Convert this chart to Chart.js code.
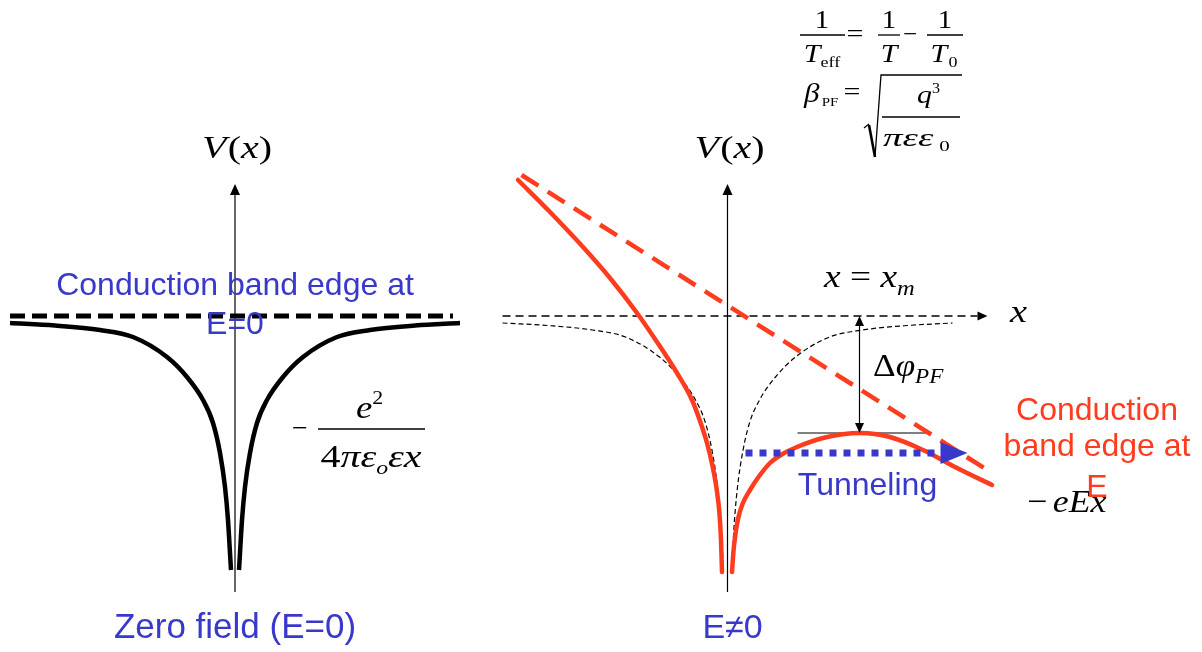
<!DOCTYPE html>
<html>
<head>
<meta charset="utf-8">
<title>Poole-Frenkel barrier lowering</title>
<script src="https://cdn.jsdelivr.net/npm/chart.js@4.4.1/dist/chart.umd.min.js"></script>
<style>
  html, body { margin: 0; padding: 0; background: #fff; overflow: hidden; }
  #wrap { position: relative; width: 1202px; height: 652px; }
</style>
</head>
<body>
<div id="wrap"><canvas id="pf" width="1202" height="652"></canvas></div>
<script>
// ---- values (x: distance from the trap, V: energy relative to the E=0 band edge, up = higher) ----

// Coulomb well of the trap at zero field, one branch (distance from trap, V)
const wellDist = [4, 5, 7, 10, 15, 22, 32, 48, 68, 102, 135, 180, 225];
const wellV    = [-254, -237, -204, -171, -137, -107, -84, -61, -41, -21, -14, -9.5, -7];

// Band edge at E=0 (flat), x extent
const edgeLeftX  = [-225, 218];
const edgeRightX = [-225, 250];
const edgeV      = [0, 0];

// Potential under an applied field E: Coulomb well plus -eEx
const fieldLeftX  = [-209.5, -177.5, -144.5, -117.5, -90.5, -70.5, -50.5, -35.5, -27.5, -20.5, -15, -11, -8, -6.5, -5.5];
const fieldLeftV  = [136, 104, 69, 38, 3, -26, -57, -84, -105, -127, -150, -172, -198, -224, -256];
const fieldRightX = [4.5, 6, 8, 10.5, 15, 22.5, 31, 42.5, 55, 69.5, 95.5, 132.5, 162.5, 195.5, 229.5, 264.5];
const fieldRightV = [-256, -235, -218, -203, -188, -174, -161, -147, -138, -131, -122, -117, -121, -134, -152, -169];

// Tilted conduction band edge, -eEx
const tiltX = [-206, 264.5];
const tiltV = [141, -157];

// Barrier maximum at x = x_m and the lowering Δφ_PF
const xm = 132;
const barrierV = -117;
const barrierTickX = [70, 200];

// Tunneling path below the barrier top
const tunnelX = [18, 213];
const tunnelV = -137;

// V(x) axis extent
const axisV = [-276, 121];

// ---- layout ----
const LEFT_O = 235, RIGHT_O = 727.5;
const BLUE = '#3838ca', RED = '#ff3c1e', BLACK = '#000';
const SERIF = '"Liberation Serif", "Times New Roman", serif';
const SANS = '"Liberation Sans", Arial, sans-serif';

const pts = (xs, vs, o) => xs.map((x, i) => ({ x: o + x, y: Array.isArray(vs) ? vs[i] : vs }));
const wellLeft  = o => wellDist.map((d, i) => ({ x: o - d, y: wellV[i] })).reverse();
const wellRight = o => wellDist.map((d, i) => ({ x: o + d, y: wellV[i] }));

const line = (data, color, width, extra) => Object.assign({
  data, borderColor: color, borderWidth: width, showLine: true, fill: false,
  pointRadius: 0, pointHoverRadius: 0, cubicInterpolationMode: 'monotone',
  borderCapStyle: 'butt', borderJoinStyle: 'round'
}, extra || {});

const datasets = [
  // tunneling arrow (on top)
  line(pts(tunnelX, tunnelV, RIGHT_O), BLUE, 7, { borderDash: [7, 7], order: 0,
    arrowEnd: { len: 27, half: 11, color: BLUE } }),
  // field-tilted potential
  line(pts(fieldLeftX, fieldLeftV, RIGHT_O), RED, 4.5, { order: 1, borderCapStyle: 'round' }),
  line(pts(fieldRightX, fieldRightV, RIGHT_O), RED, 4.5, { order: 1, borderCapStyle: 'round' }),
  line(pts(tiltX, tiltV, RIGHT_O), RED, 4.5, { order: 2, borderDash: [20, 11], tension: 0 }),
  // zero-field panel
  line(pts(edgeLeftX, edgeV, LEFT_O), BLACK, 5, { order: 3, borderDash: [15, 7], tension: 0 }),
  line(wellLeft(LEFT_O), BLACK, 4.5, { order: 3 }),
  line(wellRight(LEFT_O), BLACK, 4.5, { order: 3 }),
  line(pts([0, 0], axisV, LEFT_O), BLACK, 1.2, { order: 4, tension: 0,
    arrowEnd: { len: 11, half: 5 } }),
  // field panel, reference lines
  line(pts(edgeRightX, edgeV, RIGHT_O), BLACK, 1.5, { order: 4, borderDash: [8, 5], tension: 0,
    arrowEnd: { len: 10, half: 4.5 } }),
  line(wellLeft(RIGHT_O), BLACK, 1.2, { order: 5, borderDash: [5, 3] }),
  line(wellRight(RIGHT_O), BLACK, 1.2, { order: 5, borderDash: [5, 3] }),
  line(pts([0, 0], axisV, RIGHT_O), BLACK, 1.2, { order: 4, tension: 0,
    arrowEnd: { len: 11, half: 5 } }),
  line(pts([xm, xm], [-10, barrierV + 10], RIGHT_O), BLACK, 1.2, { order: 4, tension: 0,
    arrowStart: { len: 10, half: 4.5 }, arrowEnd: { len: 10, half: 4.5 } }),
  line(pts(barrierTickX, barrierV, RIGHT_O), BLACK, 1.2, { order: 4, tension: 0 })
];

// Arrowheads at the ends of datasets that ask for them
const arrowPlugin = {
  id: 'arrowHeads',
  afterDatasetsDraw(chart) {
    const ctx = chart.ctx;
    chart.data.datasets.forEach((ds, i) => {
      const el = chart.getDatasetMeta(i).data;
      if (el.length < 2) return;
      const head = (p, q, spec) => {
        const dx = p.x - q.x, dy = p.y - q.y, n = Math.hypot(dx, dy) || 1;
        const ux = dx / n, uy = dy / n;
        const tx = p.x + ux * spec.len, ty = p.y + uy * spec.len;
        ctx.save();
        ctx.fillStyle = spec.color || ds.borderColor;
        ctx.beginPath();
        ctx.moveTo(tx, ty);
        ctx.lineTo(p.x - uy * spec.half, p.y + ux * spec.half);
        ctx.lineTo(p.x + uy * spec.half, p.y - ux * spec.half);
        ctx.closePath();
        ctx.fill();
        ctx.restore();
      };
      if (ds.arrowEnd) head(el[el.length - 1], el[el.length - 2], ds.arrowEnd);
      if (ds.arrowStart) head(el[0], el[1], ds.arrowStart);
    });
  }
};

// Text runs: parts are [text, font, dy, extra advance]; sx widens the run horizontally
function run(ctx, x, y, parts, align, color, sx) {
  sx = sx || 1;
  const w = parts.map(p => { ctx.font = p[1]; return ctx.measureText(p[0]).width + (p[3] || 0); });
  const total = w.reduce((a, b) => a + b, 0) * sx;
  const x0 = align === 'center' ? x - total / 2 : x;
  ctx.save();
  ctx.translate(x0, y);
  ctx.scale(sx, 1);
  ctx.fillStyle = color || BLACK;
  ctx.textAlign = 'left';
  ctx.textBaseline = 'alphabetic';
  let cx = 0;
  parts.forEach((p, i) => { ctx.font = p[1]; ctx.fillText(p[0], cx, p[2] || 0); cx += w[i]; });
  ctx.restore();
}
function bar(ctx, x1, x2, y, w) {
  ctx.save(); ctx.strokeStyle = BLACK; ctx.lineWidth = w || 1.3;
  ctx.beginPath(); ctx.moveTo(x1, y); ctx.lineTo(x2, y); ctx.stroke(); ctx.restore();
}

const labelPlugin = {
  id: 'labels',
  afterDraw(chart) {
    const ctx = chart.ctx, sx = chart.scales.x, sy = chart.scales.y;
    const X = v => sx.getPixelForValue(v), Y = v => sy.getPixelForValue(v);
    const it = s => 'italic ' + s + 'px ' + SERIF, up = s => s + 'px ' + SERIF;
    const sans = s => s + 'px ' + SANS;
    const vx = [['V', it(32), 0, 1], ['(', up(32)], ['x', it(32)], [')', up(32)]];

    // zero-field panel
    run(ctx, X(LEFT_O + 2), Y(158), vx, 'center', BLACK, 1.25);
    run(ctx, X(LEFT_O), Y(21), [['Conduction band edge at', sans(32)]], 'center', BLUE);
    run(ctx, X(LEFT_O), Y(-18), [['E=0', sans(32)]], 'center', BLUE);
    run(ctx, X(292), Y(-121), [['\u2212', up(28)]], 'left');
    run(ctx, X(356), Y(-102), [['e', it(32)], ['2', up(19), -14]], 'left', BLACK, 1.15);
    bar(ctx, X(318), X(425), Y(-113));
    run(ctx, X(371), Y(-151), [['4', up(32)], ['\u03c0', it(32)], ['\u03b5', it(32)], ['o', it(19), 7],
      ['\u03b5', it(32)], ['x', it(32)]], 'center', BLACK, 1.25);
    run(ctx, X(LEFT_O), Y(-322), [['Zero field (E=0)', sans(35)]], 'center', BLUE);

    // field panel
    run(ctx, X(RIGHT_O + 2), Y(158), vx, 'center', BLACK, 1.25);
    run(ctx, X(824), Y(29), [['x', it(32)], [' = ', up(32)], ['x', it(32)], ['m', it(21), 8]], 'left', BLACK, 1.17);
    run(ctx, X(1010), Y(-6), [['x', it(32)]], 'left', BLACK, 1.2);
    run(ctx, X(873), Y(-60), [['\u0394', up(32)], ['\u03c6', it(32)], ['PF', it(21), 7]], 'left', BLACK, 1.1);
    run(ctx, X(RIGHT_O + 140), Y(-179), [['Tunneling', sans(32)]], 'center', BLUE);
    run(ctx, X(1027), Y(-196), [['\u2212', up(32), 0, 5], ['eEx', it(32)]], 'left', BLACK, 1.12);
    run(ctx, X(1097), Y(-104), [['Conduction', sans(32)]], 'center', RED);
    run(ctx, X(1097), Y(-140), [['band edge at', sans(32)]], 'center', RED);
    run(ctx, X(1097), Y(-181), [['E', sans(32)]], 'center', RED);
    run(ctx, X(RIGHT_O + 5), Y(-322), [['E\u22600', sans(34)]], 'center', BLUE);

    // 1/T_eff = 1/T - 1/T_0
    run(ctx, X(822), Y(288), [['1', up(25)]], 'center', BLACK, 1.15);
    bar(ctx, X(800), X(845), Y(281));
    run(ctx, X(822), Y(254), [['T', it(25)], ['eff', up(15), 5]], 'center', BLACK, 1.2);
    run(ctx, X(855), Y(274), [['=', up(25)]], 'center', BLACK, 1.2);
    run(ctx, X(889), Y(288), [['1', up(25)]], 'center', BLACK, 1.15);
    bar(ctx, X(878), X(900), Y(281));
    run(ctx, X(889), Y(254), [['T', it(25)]], 'center', BLACK, 1.2);
    run(ctx, X(910), Y(274), [['\u2212', up(25)]], 'center');
    run(ctx, X(945), Y(288), [['1', up(25)]], 'center', BLACK, 1.15);
    bar(ctx, X(927), X(963), Y(281));
    run(ctx, X(944), Y(254), [['T', it(25), 0, 1], ['0', up(15), 5]], 'center', BLACK, 1.2);

    // β_PF = sqrt(q^3 / (π ε ε_0))
    run(ctx, X(804), Y(214), [['\u03b2', it(27), 0, 2], ['PF', up(13), 4]], 'left', BLACK, 1.15);
    run(ctx, X(852), Y(216), [['=', up(25)]], 'center', BLACK, 1.2);
    ctx.save();
    ctx.strokeStyle = BLACK; ctx.lineJoin = 'miter';
    ctx.lineWidth = 1.3;
    ctx.beginPath(); ctx.moveTo(X(864), Y(188)); ctx.lineTo(X(869), Y(192)); ctx.stroke();
    ctx.lineWidth = 2.6;
    ctx.beginPath(); ctx.moveTo(X(869), Y(191)); ctx.lineTo(X(875), Y(159)); ctx.stroke();
    ctx.lineWidth = 1.3;
    ctx.beginPath(); ctx.moveTo(X(875), Y(159)); ctx.lineTo(X(881), Y(241)); ctx.lineTo(X(962), Y(241)); ctx.stroke();
    ctx.restore();
    run(ctx, X(917), Y(213), [['q', it(26)], ['3', up(14), -10]], 'left', BLACK, 1.15);
    bar(ctx, X(882), X(960), Y(199));
    run(ctx, X(883), Y(170), [['\u03c0', it(26)], ['\u03b5', it(26)], ['\u03b5', it(26), 0, 4], ['0', up(14), 5]], 'left', BLACK, 1.5);
  }
};

new Chart(document.getElementById('pf'), {
  type: 'scatter',
  data: { datasets },
  options: {
    responsive: false,
    animation: false,
    events: [],
    layout: { padding: 0 },
    plugins: { legend: { display: false }, tooltip: { enabled: false }, title: { display: false } },
    scales: {
      x: { type: 'linear', min: 0, max: 1202, display: false },
      y: { type: 'linear', min: -336, max: 316, display: false }
    }
  },
  plugins: [arrowPlugin, labelPlugin]
});
</script>
</body>
</html>
